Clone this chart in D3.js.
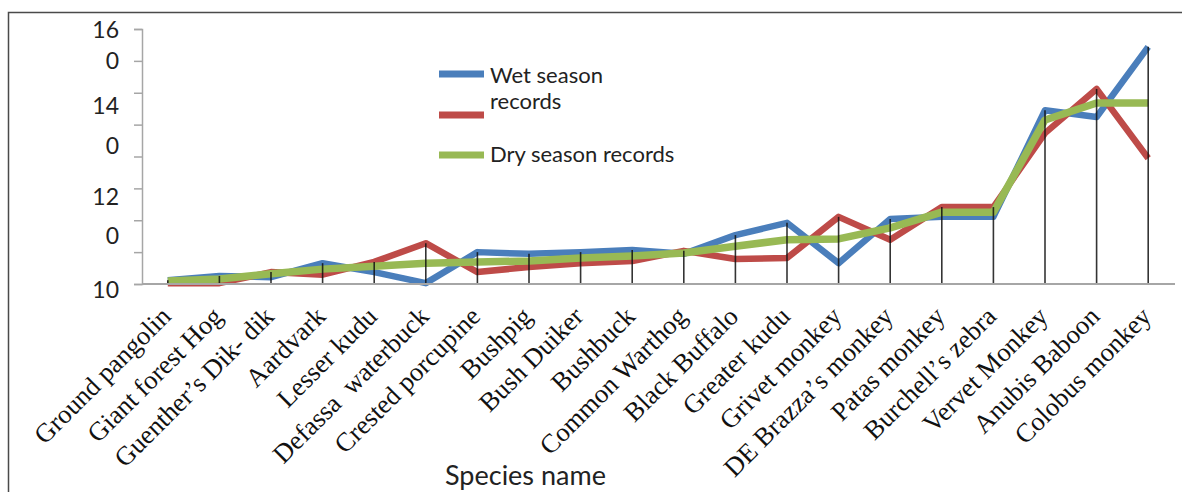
<!DOCTYPE html>
<html lang="en">
<head>
<meta charset="UTF-8">
<title>Species records</title>
<script src="https://cdn.jsdelivr.net/npm/d3@7"></script>
<style>
  body { margin: 0; background: #fff; }
</style>
</head>
<body>
<div id="chart"></div>
<script>
// data
const species = [
  "Ground pangolin", "Giant forest Hog", "Guenther\u2019s Dik- dik", "Aardvark", "Lesser kudu",
  "Defassa  waterbuck", "Crested porcupine", "Bushpig", "Bush Duiker", "Bushbuck",
  "Common Warthog", "Black Buffalo", "Greater kudu", "Grivet monkey", "DE Brazza\u02bcs monkey",
  "Patas monkey", "Burchell\u02bcs zebra", "Vervet Monkey", "Anubis Baboon", "Colobus monkey"
];
const wetRecords = [10.09, 10.19, 10.16, 10.49, 10.28, 10.02, 10.75, 10.71, 10.75, 10.80,
                    10.71, 11.15, 11.44, 10.49, 11.53, 11.58, 11.58, 14.09, 13.93, 15.58];
const redRecords = [10.02, 10.02, 10.28, 10.22, 10.52, 10.96, 10.28, 10.40, 10.49, 10.54,
                    10.78, 10.59, 10.61, 11.58, 11.04, 11.81, 11.81, 13.55, 14.59, 12.96];
const dryRecords = [10.07, 10.12, 10.24, 10.35, 10.42, 10.49, 10.52, 10.54, 10.61, 10.66,
                    10.73, 10.89, 11.04, 11.06, 11.32, 11.69, 11.69, 13.86, 14.26, 14.26];
const seriesNames = ["Wet season records", "", "Dry season records"];
const seriesColors = ["#4a7ebb", "#be4b48", "#98b954"];

const yTickValues = [10, 10.75, 11.5, 12.25, 13, 13.75, 14.5, 15.25, 16];
const yTickLabels = ["16", "0", "14", "0", "12", "0", "10"];
const yTickLabelAt = [15.97, 15.24, 14.18, 13.25, 12.04, 11.13, 9.86];

const W = 1182, H = 492;
const svg = d3.select("#chart").append("svg")
  .attr("width", W).attr("height", H)
  .style("display", "block");

// frame
svg.append("path")
  .attr("d", `M8.5,${H} V12.5 H${W}`)
  .attr("fill", "none")
  .attr("stroke", "#4a4a4a")
  .attr("stroke-width", 1.5);

const x = d3.scalePoint().domain(species).range([142, 1174]).padding(0.5);
const y = d3.scaleLinear().domain([10, 16]).range([284, 29]);

// y axis
const yAxis = svg.append("g")
  .attr("transform", "translate(142,0)")
  .call(d3.axisLeft(y).tickValues(yTickValues).tickSize(8).tickFormat(""));
yAxis.selectAll("path, line").attr("stroke", "#a6a6a6").attr("stroke-width", 1.5);

svg.append("g").selectAll("text")
  .data(yTickLabels)
  .join("text")
  .attr("x", 119)
  .attr("y", (d, i) => y(yTickLabelAt[i]))
  .attr("dy", "0.35em")
  .attr("text-anchor", "end")
  .style("font-family", "Lato, 'Open Sans', sans-serif")
  .style("font-size", "23px")
  .style("fill", "#222")
  .text(d => d);

// series lines
const line = d3.line()
  .x((d, i) => x(species[i]))
  .y(d => y(d));

[wetRecords, redRecords, dryRecords].forEach((vals, k) => {
  svg.append("path")
    .datum(vals)
    .attr("fill", "none")
    .attr("stroke", seriesColors[k])
    .attr("stroke-width", k === 2 ? 7.5 : 6.5)
    .attr("stroke-linejoin", "round")
    .attr("d", line);
});

// drop lines from the highest value down to the axis
svg.append("g").selectAll("line")
  .data(species)
  .join("line")
  .attr("x1", d => x(d)).attr("x2", d => x(d))
  .attr("y1", (d, i) => y(Math.max(wetRecords[i], redRecords[i], dryRecords[i])))
  .attr("y2", y(10))
  .attr("stroke", "#111")
  .attr("stroke-opacity", 0.85)
  .attr("stroke-width", 1.6);

// x axis
const xAxis = svg.append("g")
  .attr("transform", `translate(0,${y(10)})`)
  .call(d3.axisBottom(x).tickSize(0).tickSizeOuter(0));
xAxis.select(".domain")
  .attr("d", "M142,0H1175")
  .attr("stroke", "#a6a6a6")
  .attr("stroke-width", 2);
xAxis.selectAll("text")
  .attr("x", 0).attr("y", 0).attr("dy", 0)
  .attr("text-anchor", "end")
  .attr("transform", "translate(4,34) rotate(-45)")
  .style("white-space", "pre")
  .style("font-family", "'Liberation Serif', 'Times New Roman', serif")
  .style("font-size", "26.5px")
  .style("fill", "#111");

svg.append("text")
  .attr("x", 445).attr("y", 485)
  .style("font-family", "Lato, 'Open Sans', sans-serif")
  .style("font-size", "27px")
  .style("fill", "#222")
  .text("Species name");

// legend
const legendY = [74, 115, 155];
const legend = svg.append("g");
legend.selectAll("line")
  .data(seriesColors)
  .join("line")
  .attr("x1", 439).attr("x2", 484)
  .attr("y1", (d, i) => legendY[i]).attr("y2", (d, i) => legendY[i])
  .attr("stroke", d => d)
  .attr("stroke-width", 7);

const legendText = legend.append("g")
  .style("font-family", "Lato, 'Open Sans', sans-serif")
  .style("font-size", "22px")
  .style("fill", "#222");
const firstWords = seriesNames[0].split(" ");
legendText.append("text").attr("x", 490).attr("y", 83).text(firstWords.slice(0, 2).join(" "));
legendText.append("text").attr("x", 490).attr("y", 109).text(firstWords.slice(2).join(" "));
legendText.append("text").attr("x", 490).attr("y", 162).text(seriesNames[2]);
</script>
</body>
</html>
